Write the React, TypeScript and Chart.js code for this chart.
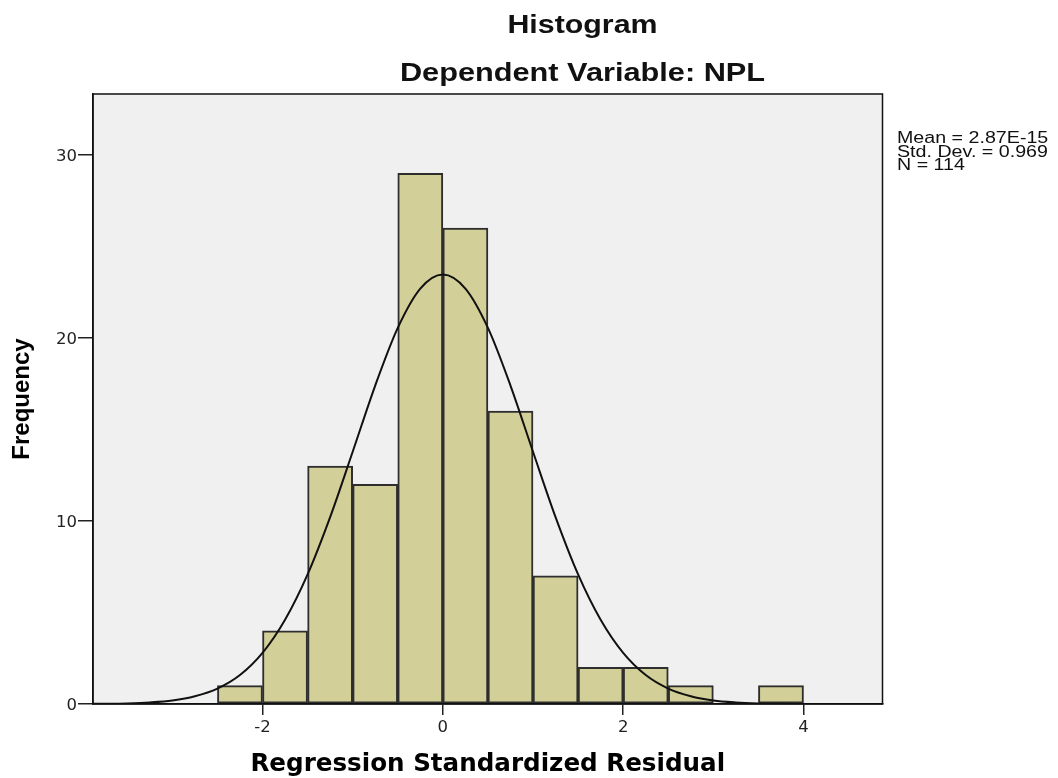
import React, { useEffect, useRef } from "react";
import { Chart, registerables } from "chart.js";

Chart.register(...registerables);

// ---- Data ----
const binCenters = [-2.25, -1.75, -1.25, -0.75, -0.25, 0.25, 0.75, 1.25, 1.75, 2.25, 2.75, 3.25, 3.75];
const binCounts = [1, 4, 13, 12, 29, 26, 16, 7, 2, 2, 1, 0, 1];

const curveX = [
  -4, -3.75, -3.5, -3.25, -3, -2.75, -2.5, -2.25, -2, -1.75, -1.5, -1.25, -1, -0.75, -0.5, -0.25,
  0, 0.25, 0.5, 0.75, 1, 1.25, 1.5, 1.75, 2, 2.25, 2.5, 2.75, 3, 3.25, 3.5, 3.75, 4, 4.25, 4.5, 4.75, 5,
];
const curveY = [
  0.0047, 0.013, 0.034, 0.085, 0.19, 0.42, 0.84, 1.58, 2.79, 4.6, 7.08, 10.21, 13.78, 17.4, 20.55, 22.7,
  23.47, 22.7, 20.55, 17.4, 13.78, 10.21, 7.08, 4.6, 2.79, 1.58, 0.84, 0.42, 0.19, 0.085, 0.034, 0.013,
  0.0047, 0.0014, 0.0004, 0.0001, 0,
];

const xTickValues = [-2, 0, 2, 4];
const yTickValues = [0, 10, 20, 30];

const titleText = "Histogram";
const subtitleText = "Dependent Variable: NPL";
const statsLines = ["Mean = 2.87E-15", "Std. Dev. = 0.969", "N = 114"];
const xTitle = "Regression Standardized Residual";
const yTitle = "Frequency";

const drawStretched = (
  ctx: CanvasRenderingContext2D,
  text: string,
  x: number,
  y: number,
  font: string,
  align: CanvasTextAlign,
  sx: number
) => {
  ctx.save();
  ctx.font = font;
  ctx.fillStyle = "#111";
  ctx.textBaseline = "alphabetic";
  ctx.textAlign = align;
  ctx.translate(x, y);
  ctx.scale(sx, 1);
  ctx.fillText(text, 0, 0);
  ctx.restore();
};

const plotBgPlugin = {
  id: "plotBg",
  beforeDraw(chart: any) {
    const { ctx, chartArea } = chart;
    ctx.save();
    ctx.fillStyle = "#f0f0f0";
    ctx.fillRect(chartArea.left, chartArea.top, chartArea.right - chartArea.left, chartArea.bottom - chartArea.top);
    ctx.restore();
  },
  afterDatasetsDraw(chart: any) {
    const { ctx, chartArea } = chart;
    ctx.save();
    ctx.strokeStyle = "#111";
    ctx.lineWidth = 1.5;
    ctx.strokeRect(chartArea.left, chartArea.top, chartArea.right - chartArea.left, chartArea.bottom - chartArea.top);
    ctx.restore();
  },
};

const textPlugin = {
  id: "texts",
  afterDraw(chart: any) {
    const ctx = chart.ctx as CanvasRenderingContext2D;
    drawStretched(ctx, titleText, 582.5, 33, "bold 25.3px 'Liberation Sans', Arial, sans-serif", "center", 1.2);
    drawStretched(ctx, subtitleText, 582.5, 81, "bold 25.6px 'Liberation Sans', Arial, sans-serif", "center", 1.2);
    const baselines = [143.3, 156.7, 170];
    statsLines.forEach((t, i) => {
      drawStretched(ctx, t, 897, baselines[i], "15.6px 'Liberation Sans', Arial, sans-serif", "left", 1.26);
    });
  },
};

export default function App() {
  const ref = useRef<HTMLCanvasElement | null>(null);

  useEffect(() => {
    if (!ref.current) return;
    const chart = new Chart(ref.current, {
      type: "bar",
      data: {
        datasets: [
          {
            type: "line",
            data: curveX.map((x, i) => ({ x, y: curveY[i] })),
            borderColor: "#111",
            borderWidth: 2,
            pointRadius: 0,
            cubicInterpolationMode: "monotone",
            fill: false,
            order: 0,
            clip: 0,
          } as any,
          {
            type: "bar",
            data: binCenters.map((x, i) => ({ x, y: binCounts[i] })),
            backgroundColor: "#d3cf98",
            borderColor: "#2e2e2e",
            borderWidth: 2,
            borderSkipped: false,
            barPercentage: 1,
            categoryPercentage: 1,
            order: 1,
          } as any,
        ],
      },
      options: {
        responsive: false,
        animation: false,
        events: [],
        layout: { padding: { left: 0, top: 94, right: 175.5, bottom: 0 } },
        plugins: { legend: { display: false }, tooltip: { enabled: false }, title: { display: false } },
        scales: {
          x: {
            type: "linear",
            min: -3.88,
            max: 4.876,
            offset: false,
            afterBuildTicks: (s: any) => {
              s.ticks = xTickValues.map((v) => ({ value: v }));
            },
            afterFit: (s: any) => {
              s.height = 74;
            },
            grid: {
              display: true,
              offset: false,
              drawOnChartArea: false,
              drawTicks: true,
              tickLength: 11,
              color: "#222",
              lineWidth: 1.5,
            },
            border: { display: true, color: "#111", width: 1.5 },
            ticks: {
              font: { family: "'DejaVu Sans', sans-serif", size: 16.5 },
              color: "#222",
              padding: 3,
              autoSkip: false,
              maxRotation: 0,
              callback: (v: any) => String(v),
            },
            title: {
              display: true,
              text: xTitle,
              color: "#000",
              font: { family: "'DejaVu Sans', sans-serif", size: 24.6, weight: "bold", lineHeight: 1 },
              padding: { top: 0, bottom: 1 },
            },
          },
          y: {
            type: "linear",
            min: 0,
            max: 33.33,
            afterBuildTicks: (s: any) => {
              s.ticks = yTickValues.map((v) => ({ value: v }));
            },
            afterFit: (s: any) => {
              s.width = 93;
            },
            grid: {
              display: true,
              offset: false,
              drawOnChartArea: false,
              drawTicks: true,
              tickLength: 15,
              color: "#222",
              lineWidth: 1.5,
            },
            border: { display: true, color: "#111", width: 1.5 },
            ticks: {
              font: { family: "'DejaVu Sans', sans-serif", size: 16.5 },
              color: "#222",
              padding: 1,
              labelOffset: 2,
              autoSkip: false,
              callback: (v: any) => String(v),
            },
            title: {
              display: true,
              text: yTitle,
              color: "#000",
              font: { family: "'Liberation Sans', Arial, sans-serif", size: 24, weight: "bold", lineHeight: 1 },
              padding: { top: 10.5, bottom: 0 },
            },
          },
        },
      } as any,
      plugins: [plotBgPlugin, textPlugin],
    });
    return () => chart.destroy();
  }, []);

  return (
    <div style={{ position: "absolute", left: 0, top: 0, width: 1058, height: 778, background: "#fff" }}>
      <canvas ref={ref} width={1058} height={778} style={{ display: "block", width: 1058, height: 778 }} />
    </div>
  );
}
